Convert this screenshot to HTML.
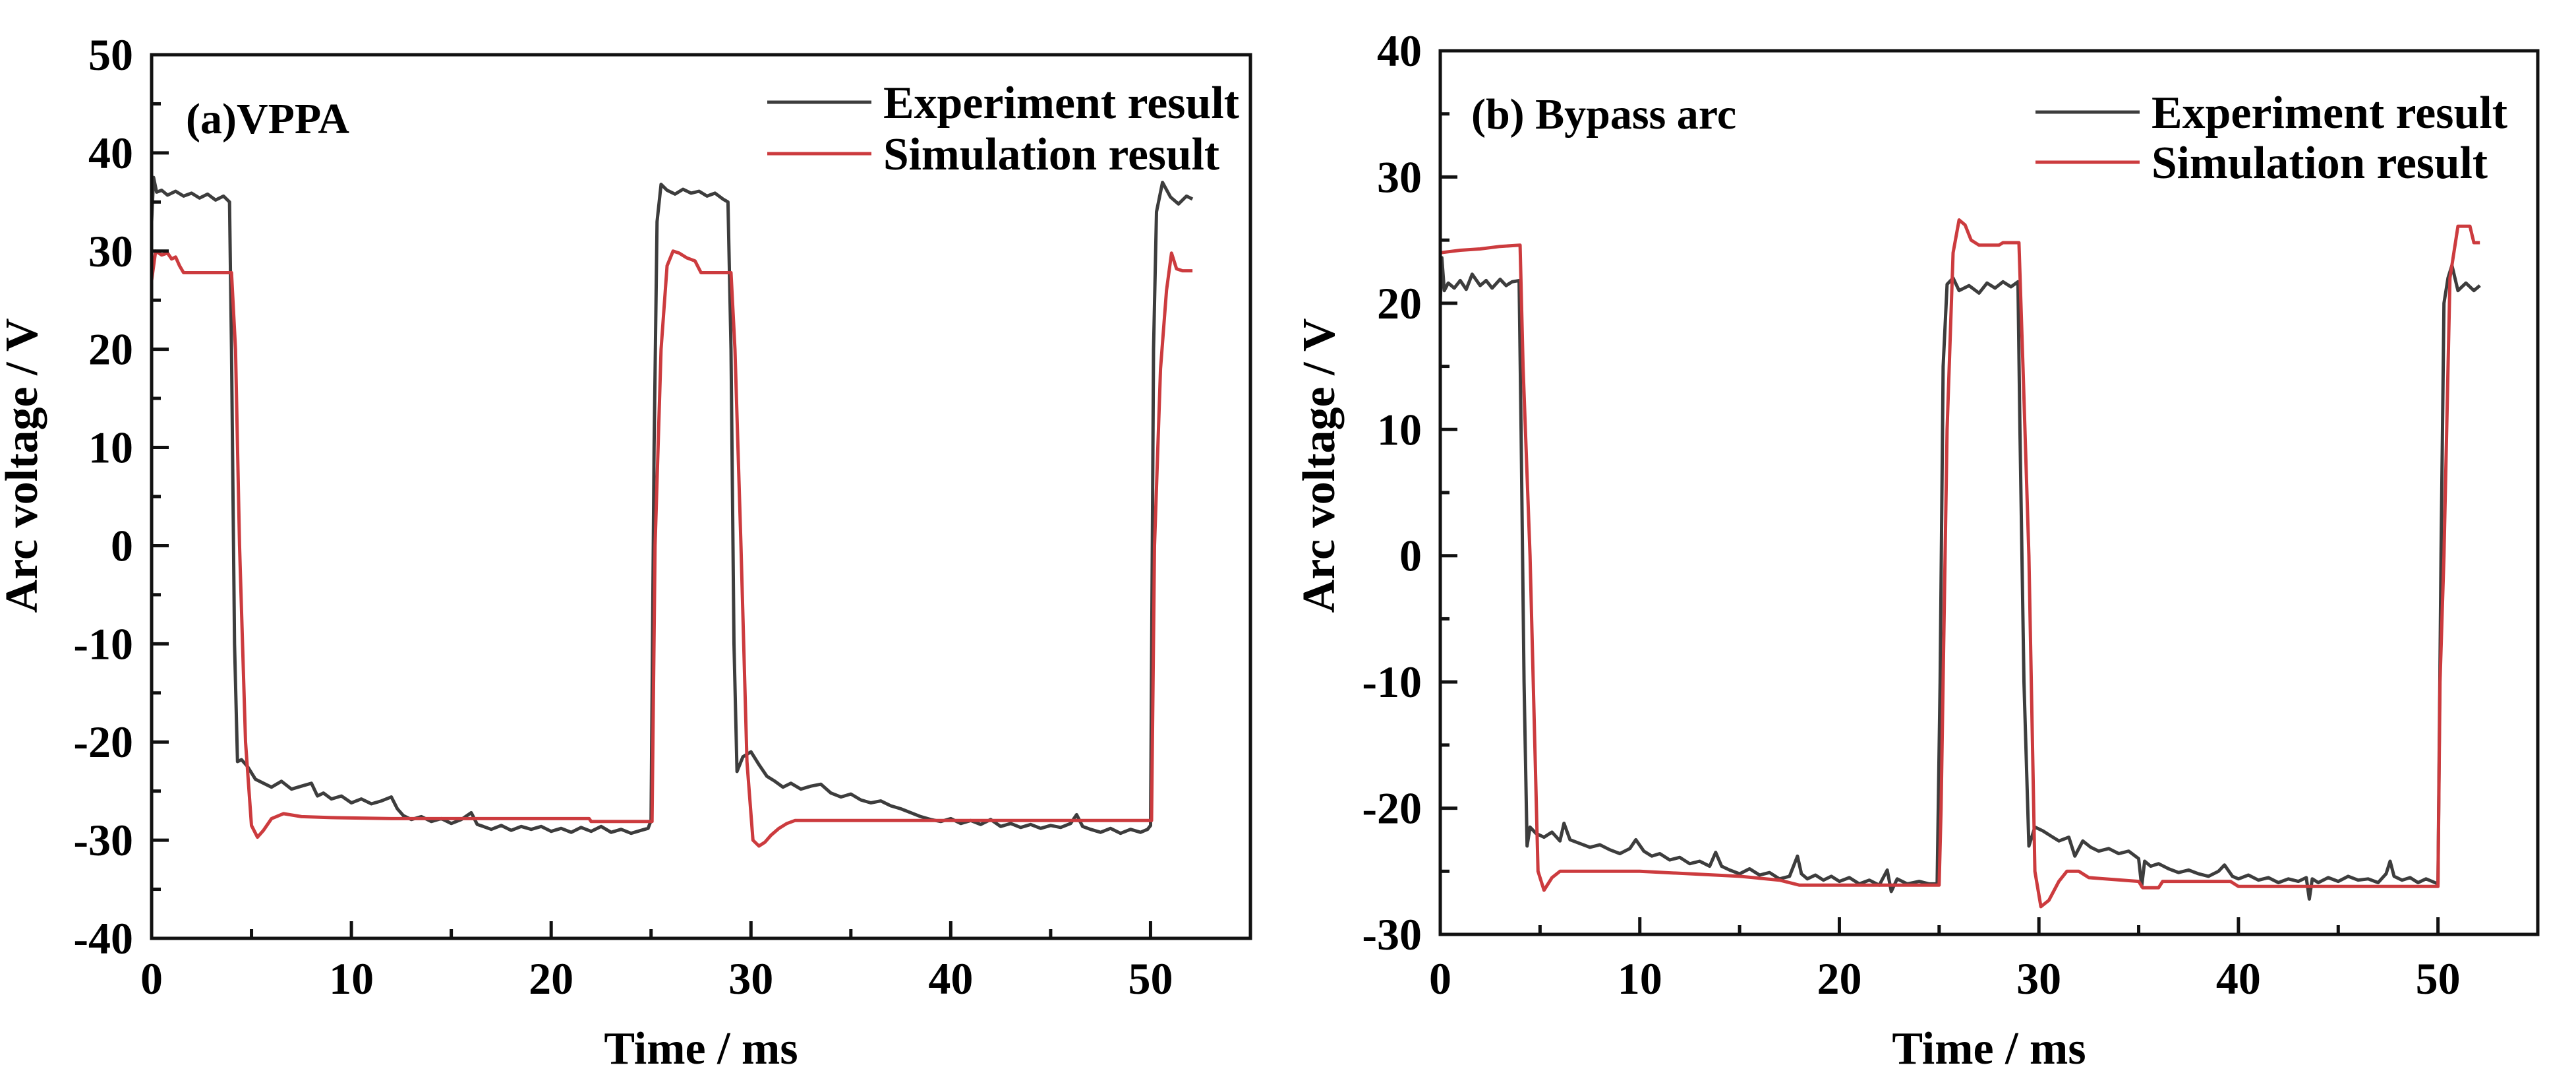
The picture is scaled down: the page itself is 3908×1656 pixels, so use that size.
<!DOCTYPE html>
<html><head><meta charset="utf-8"><style>
html,body{margin:0;padding:0;background:#fff;}
svg{display:block;font-family:"Liberation Serif","Times New Roman",serif;font-weight:bold;}
</style></head><body>
<svg id="fig" width="3908" height="1656" viewBox="0 0 3908 1656" xmlns="http://www.w3.org/2000/svg">
<rect width="3908" height="1656" fill="#fff"/>
<g id="chartA"></g>
<g id="chartB"></g>
</svg>
<script>
// ---- Chart (a) VPPA data ----
const aExpT = [0,0.1,0.25,0.5,0.8,1.2,1.6,2.0,2.4,2.8,3.2,3.6,3.9,4.0,4.15,4.3,4.5,4.8,5.2,5.6,6.0,6.5,7.0,7.5,8.0,8.3,8.6,9.0,9.5,10,10.5,11,11.5,12,12.3,12.6,13,13.5,14,14.5,15,15.5,16,16.3,16.6,17,17.5,18,18.5,19,19.5,20,20.5,21,21.5,22,22.5,23,23.5,24,24.5,24.85,25.0,25.15,25.3,25.5,25.8,26.2,26.6,27,27.4,27.8,28.2,28.6,28.85,29.0,29.15,29.3,29.6,30,30.4,30.8,31.2,31.6,32,32.5,33,33.5,34,34.5,35,35.5,36,36.5,37,37.5,38,38.5,39,39.5,40,40.5,41,41.5,42,42.5,43,43.5,44,44.5,45,45.5,46,46.3,46.6,47,47.5,48,48.5,49,49.5,49.85,50.0,50.15,50.3,50.6,51,51.4,51.8,52.1];
const aExpV = [33,37.5,36,36.2,35.7,36.1,35.6,35.9,35.4,35.8,35.2,35.6,35.0,20,-10,-22,-21.8,-22.5,-23.8,-24.2,-24.6,-24.0,-24.8,-24.5,-24.2,-25.5,-25.2,-25.8,-25.5,-26.2,-25.8,-26.3,-26.0,-25.6,-26.8,-27.5,-27.9,-27.6,-28.1,-27.8,-28.3,-27.9,-27.2,-28.4,-28.6,-28.9,-28.5,-29.0,-28.6,-28.9,-28.6,-29.1,-28.8,-29.2,-28.7,-29.1,-28.6,-29.2,-28.9,-29.3,-29.0,-28.8,-28,10,33,36.8,36.2,35.8,36.3,35.9,36.1,35.6,35.9,35.3,35.0,20,-10,-23,-21.5,-21.0,-22.3,-23.5,-24.0,-24.6,-24.2,-24.8,-24.5,-24.3,-25.2,-25.6,-25.3,-25.9,-26.2,-26.0,-26.5,-26.8,-27.2,-27.6,-27.9,-28.1,-27.8,-28.3,-28.0,-28.4,-27.9,-28.6,-28.3,-28.7,-28.4,-28.8,-28.5,-28.7,-28.3,-27.4,-28.6,-28.9,-29.2,-28.8,-29.3,-28.9,-29.2,-28.9,-28.5,20,34,37,35.5,34.8,35.6,35.3,35.8];
const aSimT = [0,0.2,0.5,0.8,1.0,1.2,1.4,1.6,4.0,4.2,4.4,4.7,5.0,5.3,5.6,6.0,6.6,7.5,9,12,15,18,21.9,22.0,24.95,25.05,25.2,25.5,25.8,26.1,26.4,26.8,27.2,27.5,29.0,29.2,29.5,29.8,30.1,30.4,30.7,31.0,31.4,31.8,32.2,35,40,45,49.95,50.05,50.2,50.5,50.8,51.05,51.3,51.6,52.1];
const aSimV = [27,30,29.6,29.8,29.2,29.4,28.5,27.8,27.8,20,0,-20,-28.5,-29.7,-29.0,-27.8,-27.3,-27.6,-27.7,-27.8,-27.8,-27.8,-27.8,-28.1,-28.1,-28.1,0,20,28.5,30,29.8,29.3,29.0,27.8,27.8,20,0,-22,-30,-30.6,-30.2,-29.5,-28.8,-28.3,-28.0,-28.0,-28.0,-28.0,-28.0,-28.0,0,18,26,29.8,28.2,28.0,28.0];
const aYTicks = [50,40,30,20,10,0,-10,-20,-30,-40];
const aXTicks = [0,10,20,30,40,50];

// ---- Chart (b) Bypass arc data ----
const bExpT = [0,0.08,0.2,0.4,0.7,1.0,1.3,1.6,2.0,2.3,2.6,3.0,3.3,3.6,3.95,4.05,4.2,4.35,4.5,4.8,5.2,5.6,6.0,6.2,6.5,7.0,7.5,8.0,8.5,9.0,9.5,9.8,10.2,10.6,11,11.5,12,12.5,13,13.5,13.8,14.1,14.5,15,15.5,16,16.5,17,17.5,17.9,18.1,18.4,18.8,19.2,19.6,20,20.5,21,21.5,22,22.4,22.6,22.9,23.4,24,24.5,24.9,25.05,25.2,25.4,25.7,26,26.5,27,27.4,27.8,28.2,28.6,28.95,29.05,29.25,29.5,29.8,30.2,30.6,31,31.5,31.8,32.2,32.6,33,33.5,34,34.5,35,35.15,35.3,35.6,36,36.5,37,37.5,38,38.5,39,39.3,39.7,40,40.5,41,41.5,42,42.5,43,43.4,43.55,43.7,44,44.5,45,45.5,46,46.5,47,47.4,47.6,47.8,48.2,48.6,49,49.4,49.85,50.0,50.15,50.3,50.5,50.7,51,51.4,51.8,52.1];
const bExpV = [20,23.6,21,21.6,21.2,21.8,21.1,22.3,21.4,21.8,21.2,21.9,21.4,21.7,21.8,10,-10,-23,-21.5,-22.0,-22.3,-21.9,-22.6,-21.2,-22.5,-22.8,-23.1,-22.9,-23.3,-23.6,-23.2,-22.5,-23.4,-23.8,-23.6,-24.1,-23.9,-24.4,-24.2,-24.6,-23.5,-24.6,-24.9,-25.2,-24.8,-25.3,-25.1,-25.6,-25.4,-23.8,-25.2,-25.6,-25.3,-25.7,-25.4,-25.8,-25.5,-26.0,-25.7,-26.1,-24.9,-26.6,-25.6,-26.0,-25.8,-26.0,-26.0,-10,15,21.5,22,21,21.4,20.8,21.6,21.2,21.7,21.3,21.7,10,-10,-23,-21.5,-21.8,-22.2,-22.6,-22.3,-23.8,-22.6,-23.1,-23.4,-23.2,-23.6,-23.4,-24.0,-26.2,-24.2,-24.6,-24.4,-24.8,-25.1,-24.9,-25.2,-25.4,-25.0,-24.5,-25.4,-25.6,-25.3,-25.7,-25.5,-25.9,-25.6,-25.8,-25.5,-27.2,-25.6,-25.9,-25.5,-25.8,-25.4,-25.7,-25.6,-25.9,-25.2,-24.2,-25.4,-25.7,-25.5,-25.9,-25.6,-25.9,-26.0,0,20,22,23,21,21.6,21.0,21.4,21.0];
const bSimT = [0,1,2,3,4.0,4.15,4.5,4.9,5.2,5.6,6,10,15,17,18,20,25.0,25.1,25.4,25.7,26.0,26.3,26.6,27.0,28.0,28.2,29.0,29.2,29.5,29.8,30.1,30.5,31.0,31.4,32.0,32.5,35.0,35.2,36.0,36.2,39.6,40.0,50.0,50.1,50.3,50.6,51.0,51.6,51.8,52.1];
const bSimV = [24,24.2,24.3,24.5,24.6,15,0,-25,-26.5,-25.5,-25,-25,-25.4,-25.7,-26.1,-26.1,-26.1,-20,10,24,26.6,26.2,25,24.6,24.6,24.8,24.8,15,0,-25,-27.8,-27.3,-25.8,-25,-25,-25.5,-25.8,-26.3,-26.3,-25.8,-25.8,-26.2,-26.2,-10,0,22,26.1,26.1,24.8,24.8];
const bYTicks = [40,30,20,10,0,-10,-20,-30];
const bXTicks = [0,10,20,30,40,50];

const NS = 'http://www.w3.org/2000/svg';
function mk(parent, tag, attrs, text){
  const e = document.createElementNS(NS, tag);
  for (const k in attrs) e.setAttribute(k, attrs[k]);
  if (text !== undefined) e.textContent = text;
  parent.appendChild(e);
  return e;
}

function drawChart(g, cfg){
  const {L,R,T,B,xmin,xmax,ymin,ymax,yTicks,xTicks,yStep,label,labelX,labelY,legX,legY1,legY2} = cfg;
  const sx = v => L + (v - xmin) / (xmax - xmin) * (R - L);
  const sy = v => B - (v - ymin) / (ymax - ymin) * (B - T);
  const AX = '#111';
  const series = [
    {t: cfg.expT, v: cfg.expV, color: '#3d3d3d', name: 'experiment-line'},
    {t: cfg.simT, v: cfg.simV, color: '#cc3b3e', name: 'simulation-line'}
  ];
  series.forEach(s => {
    let d = '';
    s.t.forEach((t, i) => { d += (i ? 'L' : 'M') + sx(t).toFixed(1) + ',' + sy(s.v[i]).toFixed(1); });
    const p = mk(g, 'path', {d: d, fill: 'none', stroke: s.color, 'stroke-width': 5, 'stroke-linejoin': 'round'});
    
    
  });
  const fr = mk(g, 'rect', {x: L, y: T, width: R - L, height: B - T, fill: 'none', stroke: AX, 'stroke-width': 5});
  
  
  for (let i = 0; i < yTicks.length; i++){
    const v = yTicks[i];
    const y = sy(v);
    if (v !== ymin && v !== ymax) mk(g, 'line', {x1: L, x2: L + 26, y1: y, y2: y, stroke: AX, 'stroke-width': 5});
    if (i < yTicks.length - 1){
      const ym = sy(v - yStep / 2);
      mk(g, 'line', {x1: L, x2: L + 14, y1: ym, y2: ym, stroke: AX, 'stroke-width': 5});
    }
    const tx = mk(g, 'text', {x: L - 28, y: y + 23, 'font-size': 68, 'text-anchor': 'end', fill: '#000'}, String(v));
    
    
  }
  for (let i = 0; i < xTicks.length; i++){
    const v = xTicks[i];
    const x = sx(v);
    if (v !== xmin) mk(g, 'line', {x1: x, x2: x, y1: B, y2: B - 26, stroke: AX, 'stroke-width': 5});
    mk(g, 'line', {x1: sx(v + 5), x2: sx(v + 5), y1: B, y2: B - 14, stroke: AX, 'stroke-width': 5});
    const tx = mk(g, 'text', {x: x, y: 1507, 'font-size': 68, 'text-anchor': 'middle', fill: '#000'}, String(v));
    
    
  }
  const xt = mk(g, 'text', {x: (L + R) / 2, y: 1613, 'font-size': 70, 'text-anchor': 'middle', fill: '#000'}, 'Time / ms');
  
  
  const ytX = cfg.ytX;
  const yt = mk(g, 'text', {x: 0, y: 0, 'font-size': 70, 'text-anchor': 'middle', fill: '#000', transform: 'translate(' + (ytX + 24) + ',706) rotate(-90)', textLength: 447, lengthAdjust: 'spacingAndGlyphs'}, 'Arc voltage / V');
  
  
  const pl = mk(g, 'text', {x: labelX, y: labelY + 22, 'font-size': 66, fill: '#000'}, label);
  
  
  const l1 = mk(g, 'line', {x1: legX, x2: legX + 158, y1: legY1, y2: legY1, stroke: '#3d3d3d', 'stroke-width': 5});
  
  
  const t1 = mk(g, 'text', {x: legX + 176, y: legY1 + 24, 'font-size': 70, fill: '#000', textLength: 540, lengthAdjust: 'spacingAndGlyphs'}, 'Experiment result');
  
  
  const l2 = mk(g, 'line', {x1: legX, x2: legX + 158, y1: legY2, y2: legY2, stroke: '#cc3b3e', 'stroke-width': 5});
  
  
  const t2 = mk(g, 'text', {x: legX + 176, y: legY2 + 24, 'font-size': 70, fill: '#000', textLength: 510, lengthAdjust: 'spacingAndGlyphs'}, 'Simulation result');
  
  
}

drawChart(document.getElementById('chartA'), {
  L: 230, R: 1897, T: 83, B: 1423, xmin: 0, xmax: 55, ymin: -40, ymax: 50,
  yTicks: aYTicks, xTicks: aXTicks, yStep: 10,
  expT: aExpT, expV: aExpV, simT: aSimT, simV: aSimV,
  label: '(a)VPPA', labelX: 282, labelY: 180, legX: 1164, legY1: 155, legY2: 233, ytX: 32
});
drawChart(document.getElementById('chartB'), {
  L: 2185, R: 3850, T: 77, B: 1417, xmin: 0, xmax: 55, ymin: -30, ymax: 40,
  yTicks: bYTicks, xTicks: bXTicks, yStep: 10,
  expT: bExpT, expV: bExpV, simT: bSimT, simV: bSimV,
  label: '(b) Bypass arc', labelX: 2232, labelY: 173, legX: 3088, legY1: 170, legY2: 246, ytX: 2000
});
</script>
</body></html>
